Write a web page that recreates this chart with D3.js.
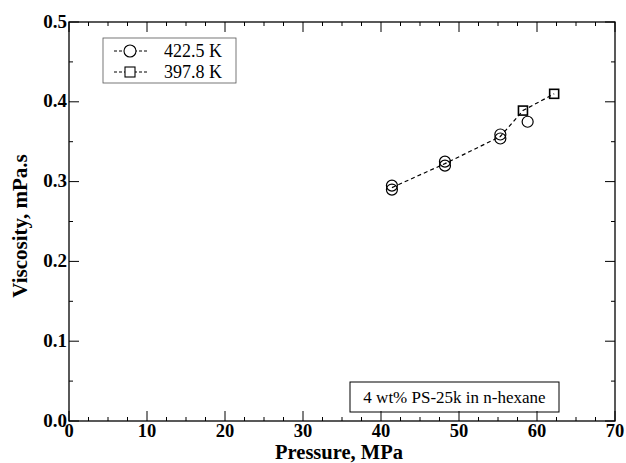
<!DOCTYPE html>
<html><head><meta charset="utf-8">
<script src="https://cdn.jsdelivr.net/npm/d3@7"></script>
<style>body{margin:0;background:#fff}svg{display:block}</style>
</head><body>
<script>
const xTicks = [0,10,20,30,40,50,60,70];
const yTicks = [0.0,0.1,0.2,0.3,0.4,0.5];
const seriesNames = ["422.5 K","397.8 K"];
const pressure422 = [41.4, 41.4, 48.2, 48.2, 55.3, 55.3, 58.8];
const visc422 = [0.295, 0.290, 0.325, 0.320, 0.359, 0.354, 0.375];
const pressure397 = [58.2, 62.2];
const visc397 = [0.389, 0.410];
const lineP = [41.4, 48.2, 55.3, 58.2, 62.2];
const lineV = [0.2925, 0.3225, 0.3565, 0.389, 0.410];
const note = "4 wt% PS-25k in n-hexane";

const W=626,H=463;
const svg=d3.select("body").append("svg").attr("width",W).attr("height",H);
const L=69,R=615,T=22,B=421;
const x=d3.scaleLinear().domain([0,70]).range([L,R]);
const y=d3.scaleLinear().domain([0,0.5]).range([B,T]);
const font="'Liberation Serif','Times New Roman',serif";

// frame
svg.append("rect").attr("x",L).attr("y",T).attr("width",R-L).attr("height",B-T)
  .attr("fill","none").attr("stroke","#000").attr("stroke-width",1.3);

// ticks (inward, all sides)
const xMinor=d3.range(0,70.01,2.5);
const yMinor=d3.range(0,0.5001,0.05);
const tg=svg.append("g").attr("stroke","#000").attr("stroke-width",1);
xMinor.forEach(v=>{
  const major=Math.abs(v/10-Math.round(v/10))<1e-6; const len=major?10:4;
  tg.append("line").attr("x1",x(v)).attr("x2",x(v)).attr("y1",B).attr("y2",B-len);
  tg.append("line").attr("x1",x(v)).attr("x2",x(v)).attr("y1",T).attr("y2",T+len);
});
yMinor.forEach(v=>{
  const major=Math.abs(v*10-Math.round(v*10))<1e-6; const len=major?10:4;
  tg.append("line").attr("x1",L).attr("x2",L+len).attr("y1",y(v)).attr("y2",y(v));
  tg.append("line").attr("x1",R).attr("x2",R-len).attr("y1",y(v)).attr("y2",y(v));
});

// tick labels
svg.append("g").selectAll("text").data(xTicks).join("text")
  .attr("x",d=>x(d)).attr("y",437).attr("text-anchor","middle")
  .attr("font-family",font).attr("font-weight","bold").attr("font-size",18.5)
  .text(d=>d);
svg.append("g").selectAll("text").data(yTicks).join("text")
  .attr("x",L-2).attr("y",d=>y(d)-1).attr("dy","0.35em").attr("text-anchor","end")
  .attr("font-family",font).attr("font-weight","bold").attr("font-size",19)
  .text(d=>d.toFixed(1));

// axis titles
svg.append("text").attr("x",339).attr("y",459).attr("text-anchor","middle")
  .attr("font-family",font).attr("font-weight","bold").attr("font-size",20.5)
  .text("Pressure, MPa");
svg.append("text").attr("transform",`translate(27,226) rotate(-90)`)
  .attr("text-anchor","middle")
  .attr("font-family",font).attr("font-weight","bold").attr("font-size",21)
  .text("Viscosity, mPa.s");

// dashed line
const lineData=lineP.map((p,i)=>[p,lineV[i]]);
svg.append("path").datum(lineData)
  .attr("d",d3.line().x(d=>x(d[0])).y(d=>y(d[1])))
  .attr("fill","none").attr("stroke","#000").attr("stroke-width",1.2)
  .attr("stroke-dasharray","4,3");

// markers
svg.append("g").selectAll("circle").data(pressure422.map((p,i)=>[p,visc422[i]])).join("circle")
  .attr("cx",d=>x(d[0])).attr("cy",d=>y(d[1])).attr("r",5.5)
  .attr("fill","none").attr("stroke","#000").attr("stroke-width",1.2);
const s=9;
svg.append("g").selectAll("rect").data(pressure397.map((p,i)=>[p,visc397[i]])).join("rect")
  .attr("x",d=>x(d[0])-s/2).attr("y",d=>y(d[1])-s/2).attr("width",s).attr("height",s)
  .attr("fill","none").attr("stroke","#000").attr("stroke-width",1.6);

// legend
const lg=svg.append("g");
lg.append("rect").attr("x",103).attr("y",38).attr("width",133).attr("height",45)
  .attr("fill","none").attr("stroke","#555").attr("stroke-width",0.8);
const rows=[51,72];
rows.forEach((ry,i)=>{
  lg.append("line").attr("x1",114).attr("x2",148).attr("y1",ry).attr("y2",ry)
    .attr("stroke","#000").attr("stroke-width",1).attr("stroke-dasharray","3,2");
  if(i===0){
    lg.append("circle").attr("cx",130).attr("cy",ry).attr("r",6)
      .attr("fill","#fff").attr("stroke","#000").attr("stroke-width",1.1);
  } else {
    lg.append("rect").attr("x",130-5).attr("y",ry-5).attr("width",10).attr("height",10)
      .attr("fill","#fff").attr("stroke","#000").attr("stroke-width",1.1);
  }
  lg.append("text").attr("x",164).attr("y",ry).attr("dy","0.33em")
    .attr("font-family",font).attr("font-size",18).text(seriesNames[i]);
});

// annotation
svg.append("rect").attr("x",350).attr("y",382).attr("width",209).attr("height",30)
  .attr("fill","none").attr("stroke","#000").attr("stroke-width",1);
svg.append("text").attr("x",454.5).attr("y",397).attr("dy","0.35em").attr("text-anchor","middle")
  .attr("font-family",font).attr("font-size",17).text(note);
</script>
</body></html>
